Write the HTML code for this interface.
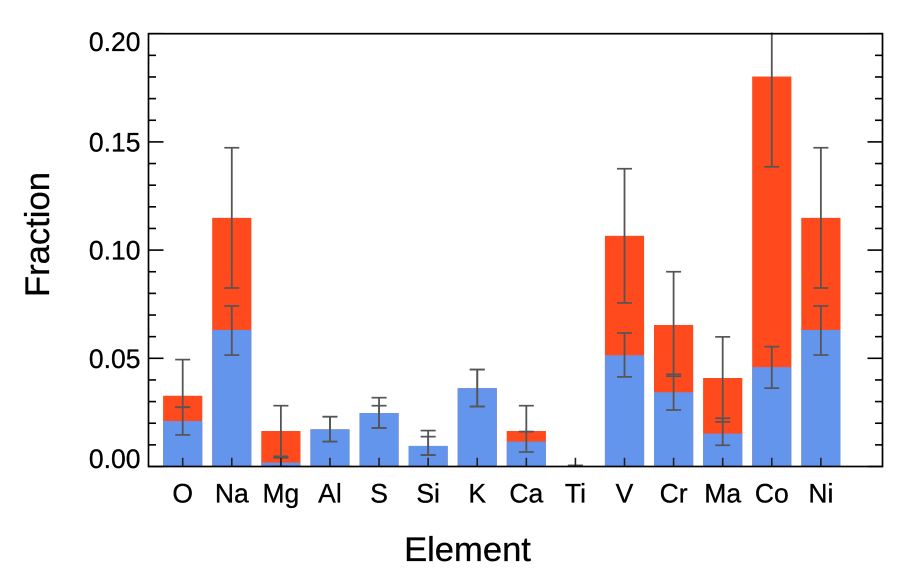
<!DOCTYPE html>
<html>
<head>
<meta charset="utf-8">
<style>
html,body{margin:0;padding:0;background:#fff;}
svg{display:block;}
text{font-family:"Liberation Sans",Arial,sans-serif;fill:#000;stroke:#000;stroke-width:0.3px;}
</style>
</head>
<body>
<svg id="chart" xmlns="http://www.w3.org/2000/svg" width="900" height="574" viewBox="0 0 900 574">
<defs><clipPath id="plot-clip"><rect x="100" y="32.5" width="790" height="434.5"></rect></clipPath></defs>
<g id="bars"></g>
<g id="errs" clip-path="url(#plot-clip)"></g>
<g id="axes"></g>
<g id="labels"></g>
<text x="467.5" y="561" font-size="34.6" text-anchor="middle">Element</text>
<text transform="translate(49,234.5) rotate(-90)" font-size="34.6" text-anchor="middle">Fraction</text>
</svg>
<script>
const categories = ["O","Na","Mg","Al","S","Si","K","Ca","Ti","V","Cr","Ma","Co","Ni"];
const totalValues = [0.0327,0.1149,0.0164,0.0172,0.0247,0.0095,0.0362,0.0164,0,0.1066,0.0654,0.0409,0.1802,0.1149];
const blueValues = [0.0210,0.0631,0.0018,0.0172,0.0247,0.0095,0.0362,0.0115,0,0.0514,0.0343,0.0152,0.0459,0.0631];
const totalErrLow = [0.0274,0.0825,0.0047,0.0115,0.0178,0.0053,0.0277,0.0161,0,0.0756,0.0417,0.0206,0.1385,0.0825];
const totalErrHigh = [0.0494,0.1473,0.0281,0.0230,0.0318,0.0166,0.0448,0.0281,0.0005,0.1376,0.0900,0.0599,0.2015,0.1473];
const blueErrLow = [0.0146,0.0515,0,0.0115,0.0178,0.0053,0.0277,0.0067,0,0.0414,0.0261,0.0098,0.0362,0.0515];
const blueErrHigh = [0.0274,0.0742,0.0040,0.0230,0.0281,0.0138,0.0448,0.0161,0.0005,0.0617,0.0426,0.0223,0.0554,0.0742];
const yMajorTicks = [0,0.05,0.10,0.15,0.20];
const yMajorLabels = ["0.00","0.05","0.10","0.15","0.20"];
const yMinorTicks = [0.01,0.02,0.03,0.04,0.06,0.07,0.08,0.09,0.11,0.12,0.13,0.14,0.16,0.17,0.18,0.19];

const NS = "http://www.w3.org/2000/svg";
const left = 148.5, right = 882.5, top_ = 33.7, bottom = 466.5;
function xScale(i){ return 182.7 + i * 49.09; }
function yScale(v){ return bottom - v * (bottom - top_) / 0.2; }
const barWidth = 39.2;

function make(tag, attrs, parent){
  const el = document.createElementNS(NS, tag);
  for (const k in attrs) el.setAttribute(k, attrs[k]);
  parent.appendChild(el);
  return el;
}
function hLine(x1,x2,y,parent,color,w){
  return make("line",{x1:x1,x2:x2,y1:y,y2:y,stroke:color,"stroke-width":w},parent);
}
function vLine(x,y1,y2,parent,color,w){
  return make("line",{x1:x,x2:x,y1:y1,y2:y2,stroke:color,"stroke-width":w},parent);
}

const barsG = document.getElementById("bars");
const errsG = document.getElementById("errs");
const axesG = document.getElementById("axes");
const labelsG = document.getElementById("labels");

categories.forEach(function(c,i){
  const cx = xScale(i);
  const red = make("rect",{x:cx-barWidth/2,width:barWidth,y:yScale(totalValues[i]),height:bottom-yScale(totalValues[i]),fill:"#FF4A1E"},barsG);
  
  
  const blue = make("rect",{x:cx-barWidth/2,width:barWidth,y:yScale(blueValues[i]),height:bottom-yScale(blueValues[i]),fill:"#6495ED"},barsG);
  
  

  [[totalErrLow[i],totalErrHigh[i]],[blueErrLow[i],blueErrHigh[i]]].forEach(function(e,j){
    const g = make("g",{},errsG);
    
    
    vLine(cx,yScale(e[0]),yScale(e[1]),g,"#555",1.8);
    hLine(cx-7.5,cx+7.5,yScale(e[0]),g,"#555",1.7);
    hLine(cx-7.5,cx+7.5,yScale(e[1]),g,"#555",1.7);
  });

  const t = make("line",{x1:cx,x2:cx,y1:bottom,y2:bottom-8.7,stroke:"#222","stroke-width":1.6},axesG);
  
  

  const lab = make("text",{x:cx,y:502.5,"font-size":26.5,"text-anchor":"middle"},labelsG);
  lab.textContent = c;
  
  
});

yMinorTicks.forEach(function(v){
  hLine(left,left+7.5,yScale(v),axesG,"#000",1.6);
  hLine(right-7.5,right,yScale(v),axesG,"#000",1.6);
});
yMajorTicks.forEach(function(v,i){
  hLine(left,left+15,yScale(v),axesG,"#000",1.6);
  hLine(right-15,right,yScale(v),axesG,"#000",1.6);
  let y = yScale(v) + 9.5;
  if (i === 0) y -= 8;
  if (i === yMajorTicks.length-1) y += 8;
  const lab = make("text",{x:140.5,y:y,"font-size":26.5,"text-anchor":"end"},labelsG);
  lab.textContent = yMajorLabels[i];
  
  
});

const frame = make("rect",{x:left,y:top_,width:right-left,height:bottom-top_,fill:"none",stroke:"#000","stroke-width":1.7},axesG);


</script>
</body>
</html>
